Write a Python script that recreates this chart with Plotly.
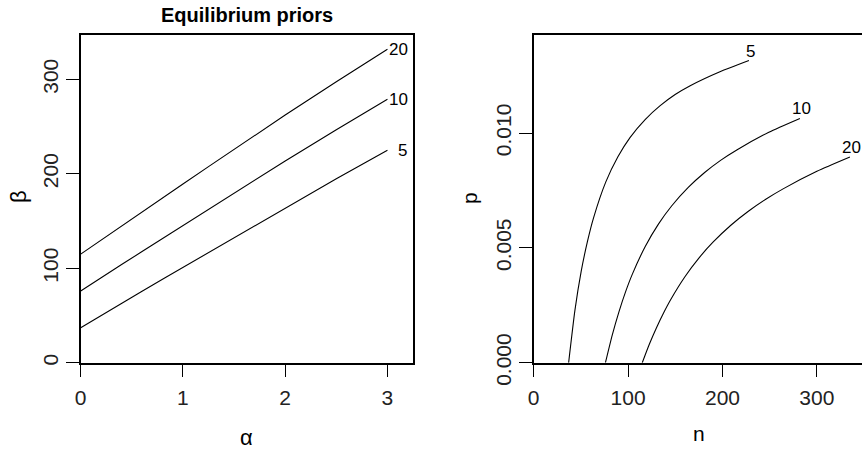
import plotly.graph_objects as go

# ---- data ----
alpha = [0.0, 0.1, 0.2, 0.3, 0.4, 0.6, 0.8, 1.0, 1.25, 1.5, 1.75, 2.0, 2.5, 3.0]
beta_5 = [37.0, 43.6, 50.1, 56.6, 63.0, 75.7, 88.4, 101.0, 116.8, 132.5, 148.1, 163.8, 194.8, 225.0]
beta_10 = [76.0, 83.1, 90.1, 97.0, 103.9, 117.7, 131.5, 145.3, 162.5, 179.6, 196.6, 213.6, 246.6, 279.0]
beta_20 = [115.0, 122.5, 130.0, 137.4, 144.8, 159.6, 174.4, 189.2, 207.6, 225.9, 244.1, 262.2, 297.5, 332.0]
series = [("5", beta_5), ("10", beta_10), ("20", beta_20)]

x1_ticks = [0, 1, 2, 3]
y1_ticks = [0, 100, 200, 300]
x2_ticks = [0, 100, 200, 300]
y2_ticks = [0.0, 0.005, 0.010]

W, H = 862, 449
FONT = "Liberation Sans"


def px(x):
    return x / W


def py(y):
    return 1 - y / H


fig = go.Figure()
annotations = []
for label, beta in series:
    fig.add_trace(go.Scatter(x=alpha, y=beta, mode="lines", xaxis="x", yaxis="y",
                             line=dict(color="black", width=1.1), showlegend=False,
                             hoverinfo="skip"))
    n = [a + b for a, b in zip(alpha, beta)]
    p = [a / (a + b) for a, b in zip(alpha, beta)]
    fig.add_trace(go.Scatter(x=n, y=p, mode="lines", xaxis="x2", yaxis="y2",
                             line=dict(color="black", width=1.1, shape="spline", smoothing=0.6),
                             showlegend=False, hoverinfo="skip"))
    annotations.append(dict(x=alpha[-1], y=beta[-1], xref="x", yref="y", text=label,
                            showarrow=False, xanchor="left", yanchor="middle",
                            xshift=(9 if label == "5" else 0),
                            font=dict(family=FONT, size=17, color="black")))
    annotations.append(dict(x=n[-1], y=p[-1], xref="x2", yref="y2", text=label,
                            showarrow=False, xanchor="center", yanchor="bottom",
                            xshift=2, yshift=-2,
                            font=dict(family=FONT, size=17, color="black")))

# titles
annotations += [
    dict(x=px(246.8), y=py(15), xref="paper", yref="paper", text="<b>Equilibrium priors</b>",
         showarrow=False, xanchor="center", yanchor="middle",
         font=dict(family=FONT, size=20, color="black")),
    dict(x=px(246.8), y=py(437), xref="paper", yref="paper", text="α",
         showarrow=False, xanchor="center", yanchor="middle",
         font=dict(family=FONT, size=22, color="black")),
    dict(x=px(18), y=py(197), xref="paper", yref="paper", text="β", textangle=-90,
         showarrow=False, xanchor="center", yanchor="middle",
         font=dict(family=FONT, size=22, color="black")),
    dict(x=px(699), y=py(433), xref="paper", yref="paper", text="n",
         showarrow=False, xanchor="center", yanchor="middle",
         font=dict(family=FONT, size=21, color="black")),
    dict(x=px(470), y=py(198), xref="paper", yref="paper", text="p", textangle=-90,
         showarrow=False, xanchor="center", yanchor="middle",
         font=dict(family=FONT, size=21, color="black")),
]

axis_common = dict(showgrid=False, zeroline=False, showline=True, linecolor="black",
                   linewidth=1.5, ticks="outside", ticklen=13, tickwidth=1.3,
                   tickcolor="black", automargin=False,
                   tickfont=dict(family=FONT, size=21, color="#222"))

fig.update_layout(
    width=W, height=H, margin=dict(l=0, r=0, t=0, b=0, autoexpand=False),
    paper_bgcolor="white", plot_bgcolor="white",
    xaxis=dict(domain=[px(80.7), px(413)], range=[0, 3.25], tickvals=x1_ticks,
               mirror=True, anchor="y", ticklabelstandoff=2, **axis_common),
    yaxis=dict(domain=[py(362.7), py(35)], range=[0, 347], tickvals=y1_ticks,
               tickangle=-90, mirror=True, anchor="x", **axis_common),
    xaxis2=dict(domain=[px(533.7), 1.0], range=[0, 347.8], tickvals=x2_ticks,
                mirror=True, anchor="y2", ticklabelstandoff=2, **axis_common),
    yaxis2=dict(domain=[py(362.7), py(35)], range=[0, 0.01427], tickvals=y2_ticks,
                tickformat=".3f", tickangle=-90, mirror=False, anchor="x2", **axis_common),
    annotations=annotations,
)

fig.write_html("out.html")
